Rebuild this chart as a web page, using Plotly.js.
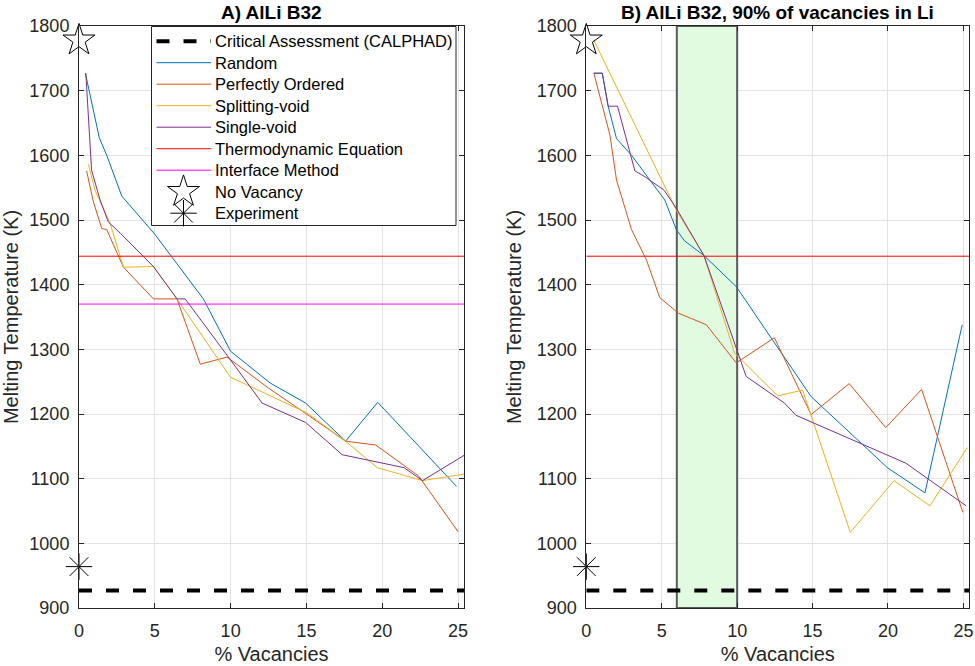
<!DOCTYPE html>
<html>
<head>
<meta charset="utf-8">
<script src="https://cdn.plot.ly/plotly-3.0.1.min.js"></script>
<style>
  html, body { margin: 0; padding: 0; background: #ffffff; }
  #chart { width: 975px; height: 666px; }
</style>
</head>
<body>
<div id="chart"></div>
<script>
// ---- Panel A: AlLi B32 ----
const aRandomX = [0.42, 1.34, 1.83, 2.82, 5.0, 8.2, 10.0, 12.6, 14.94, 17.58, 19.7, 24.9];
const aRandomY = [1727, 1627, 1600, 1537, 1478, 1378, 1297, 1248, 1217, 1158, 1218, 1088];

const aOrderedX = [0.5, 0.95, 1.5, 1.83, 2.93, 4.91, 6.46, 8.0, 9.76, 12.5, 15.0, 17.58, 19.57, 22.4, 25.0];
const aOrderedY = [1576, 1528, 1487, 1485, 1427, 1378, 1378, 1277, 1288, 1240, 1200, 1158, 1152, 1104, 1018];

const aSplitX = [0.62, 1.06, 2.05, 2.93, 4.91, 6.46, 9.98, 12.5, 15.0, 17.58, 19.67, 22.65, 25.39];
const aSplitY = [1586, 1546, 1495, 1427, 1428, 1378, 1257, 1230, 1202, 1158, 1117, 1097, 1107];

const aSingleX = [0.45, 0.83, 1.39, 1.93, 2.75, 4.91, 6.46, 7.0, 9.98, 12.07, 14.94, 17.36, 21.44, 22.65, 25.39];
const aSingleY = [1727, 1577, 1531, 1497, 1479, 1428, 1378, 1378, 1284, 1217, 1187, 1137, 1117, 1097, 1136];

// ---- Panel B: AlLi B32, 90% of vacancies in Li ----
const bRandomX = [0.5, 1.06, 1.45, 2.0, 3.0, 5.2, 5.97, 6.5, 7.8, 9.94, 14.9, 19.96, 22.45, 24.92];
const bRandomY = [1727, 1727, 1676, 1626, 1600, 1531, 1485, 1468, 1445, 1397, 1227, 1117, 1078, 1338];

const bOrderedX = [0.5, 1.57, 2.0, 3.0, 3.99, 4.87, 6.1, 7.96, 9.94, 12.47, 14.9, 17.43, 19.85, 22.23, 24.96];
const bOrderedY = [1727, 1631, 1562, 1485, 1438, 1380, 1356, 1338, 1279, 1318, 1199, 1247, 1179, 1238, 1048];

const bSplitX = [0.5, 5.97, 7.8, 9.83, 12.69, 14.34, 17.5, 20.4, 22.78, 25.25];
const bSplitY = [1778, 1515, 1445, 1294, 1228, 1237, 1017, 1097, 1058, 1148];

const bSingleX = [0.5, 1.06, 1.45, 2.07, 3.22, 3.88, 5.16, 5.97, 7.8, 9.91, 10.6, 13.13, 13.9, 21.18, 25.18];
const bSingleY = [1727, 1727, 1676, 1676, 1576, 1567, 1546, 1518, 1445, 1305, 1258, 1217, 1198, 1124, 1058];

// Reference levels (K)
const calphadTm = 927;        // Critical Assessment (CALPHAD)
const thermoTm = 1444;        // Thermodynamic Equation
const interfaceTm = 1370;     // Interface Method
const noVacancyTm = 1778;     // No Vacancy
const experimentTm = 964;     // Experiment
const refX = 0;

// Highlighted vacancy window in panel B (% vacancies)
const liWindow = [6, 10];

const xSpan = [0, 25.39];
const ySpan = [900, 1800];

const seriesNames = ['Random', 'Perfectly Ordered', 'Splitting-void', 'Single-void'];
const seriesColors = ['#0072BD', '#D95319', '#EDB120', '#7E2F8E'];

const FONT = 'Liberation Sans, Arial, Helvetica, sans-serif';
const INK = '#262626';
const CALPHAD_DASH = '13px,14px';

function dataTrace(x, y, i, xa, ya) {
  return {
    x: x, y: y, type: 'scatter', mode: 'lines',
    name: seriesNames[i], xaxis: xa, yaxis: ya,
    line: { color: seriesColors[i], width: 1 },
    showlegend: false, hoverinfo: 'skip'
  };
}
function hLine(yv, name, color, xa, ya, dash, width) {
  return {
    x: xSpan, y: [yv, yv], type: 'scatter', mode: 'lines',
    name: name, xaxis: xa, yaxis: ya,
    line: { color: color, width: width || 1, dash: dash || 'solid' },
    showlegend: false, hoverinfo: 'skip'
  };
}
function refMarker(yv, name, symbol, size, xa, ya) {
  return {
    x: [refX], y: [yv], type: 'scatter', mode: 'markers',
    name: name, xaxis: xa, yaxis: ya, cliponaxis: false,
    marker: { symbol: symbol, size: size, color: '#000000',
              line: { color: '#000000', width: 1 } },
    showlegend: false, hoverinfo: 'skip'
  };
}

const traces = [
  // Panel A
  hLine(calphadTm, 'Critical Assessment (CALPHAD)', '#000000', 'x', 'y', CALPHAD_DASH, 4),
  dataTrace(aRandomX, aRandomY, 0, 'x', 'y'),
  dataTrace(aOrderedX, aOrderedY, 1, 'x', 'y'),
  dataTrace(aSplitX, aSplitY, 2, 'x', 'y'),
  dataTrace(aSingleX, aSingleY, 3, 'x', 'y'),
  hLine(thermoTm, 'Thermodynamic Equation', '#FF0000', 'x', 'y'),
  hLine(interfaceTm, 'Interface Method', '#FF00FF', 'x', 'y'),
  refMarker(noVacancyTm, 'No Vacancy', 'star-open', 24, 'x', 'y'),
  refMarker(experimentTm, 'Experiment', 'asterisk-open', 22, 'x', 'y'),
  // Panel B
  hLine(calphadTm, 'Critical Assessment (CALPHAD)', '#000000', 'x2', 'y2', CALPHAD_DASH, 4),
  dataTrace(bRandomX, bRandomY, 0, 'x2', 'y2'),
  dataTrace(bOrderedX, bOrderedY, 1, 'x2', 'y2'),
  dataTrace(bSplitX, bSplitY, 2, 'x2', 'y2'),
  dataTrace(bSingleX, bSingleY, 3, 'x2', 'y2'),
  hLine(thermoTm, 'Thermodynamic Equation', '#FF0000', 'x2', 'y2'),
  refMarker(noVacancyTm, 'No Vacancy', 'star-open', 24, 'x2', 'y2'),
  refMarker(experimentTm, 'Experiment', 'asterisk-open', 22, 'x2', 'y2')
];

// ---- Legend box for panel A, laid out in page pixels on an overlay axis pair ----
const legendEntries = [
  { label: 'Critical Assessment (CALPHAD)', kind: 'line', color: '#000000', width: 4, dash: CALPHAD_DASH },
  { label: seriesNames[0], kind: 'line', color: seriesColors[0], width: 1 },
  { label: seriesNames[1], kind: 'line', color: seriesColors[1], width: 1 },
  { label: seriesNames[2], kind: 'line', color: seriesColors[2], width: 1 },
  { label: seriesNames[3], kind: 'line', color: seriesColors[3], width: 1 },
  { label: 'Thermodynamic Equation', kind: 'line', color: '#FF0000', width: 1 },
  { label: 'Interface Method', kind: 'line', color: '#FF00FF', width: 1 },
  { label: 'No Vacancy', kind: 'marker', symbol: 'star-open', size: 24 },
  { label: 'Experiment', kind: 'marker', symbol: 'asterisk-open', size: 22 }
];
const LG = { left: 151.5, right: 456, top: 26.5, bottom: 225.5,
             firstRow: 41.2, rowStep: 21.5, sampleL: 156.5, sampleR: 211,
             symbolX: 183.5, textX: 214 };

traces.push({
  x: [LG.left, LG.right, LG.right, LG.left, LG.left],
  y: [LG.top, LG.top, LG.bottom, LG.bottom, LG.top],
  type: 'scatter', mode: 'lines', fill: 'toself', fillcolor: '#ffffff',
  line: { color: INK, width: 1 }, xaxis: 'x3', yaxis: 'y3',
  showlegend: false, hoverinfo: 'skip'
});
const legendAnnotations = [];
legendEntries.forEach((e, k) => {
  const ry = LG.firstRow + k * LG.rowStep;
  if (e.kind === 'line') {
    traces.push({
      x: [LG.sampleL, LG.sampleR], y: [ry, ry], type: 'scatter', mode: 'lines',
      line: { color: e.color, width: e.width, dash: e.dash || 'solid' },
      xaxis: 'x3', yaxis: 'y3', showlegend: false, hoverinfo: 'skip'
    });
  } else {
    traces.push({
      x: [LG.symbolX], y: [ry], type: 'scatter', mode: 'markers', cliponaxis: false,
      marker: { symbol: e.symbol, size: e.size, color: '#000000', line: { color: '#000000', width: 1 } },
      xaxis: 'x3', yaxis: 'y3', showlegend: false, hoverinfo: 'skip'
    });
  }
  legendAnnotations.push({
    text: e.label, xref: 'x3', yref: 'y3', x: LG.textX, y: ry,
    xanchor: 'left', yanchor: 'middle', showarrow: false, borderpad: 0,
    font: { family: FONT, size: 16.5, color: '#000000' }
  });
});

const W = 975;
const xAxisBase = {
  range: xSpan, dtick: 5, tick0: 0,
  showline: true, mirror: 'ticks', linecolor: INK, linewidth: 1,
  ticks: 'inside', ticklen: 5, tickcolor: INK,
  showgrid: true, gridcolor: '#e3e3e3', zeroline: false,
  tickfont: { family: FONT, size: 18, color: INK },
  ticklabelstandoff: 6,
  title: { text: '% Vacancies', font: { family: FONT, size: 20, color: INK }, standoff: 7 }
};
const yAxisBase = {
  range: ySpan, dtick: 100, tick0: 900,
  showline: true, mirror: 'ticks', linecolor: INK, linewidth: 1,
  ticks: 'inside', ticklen: 5, tickcolor: INK,
  showgrid: true, gridcolor: '#e3e3e3', zeroline: false,
  tickfont: { family: FONT, size: 18, color: INK },
  ticklabelstandoff: 5,
  title: { text: 'Melting Temperature (K)', font: { family: FONT, size: 20, color: INK }, standoff: 9 }
};

const leftDom = [79 / W, 464 / W];
const rightDom = [586.3 / W, 969.3 / W];
const M = { l: 0, r: 0, t: 26, b: 58 };
const plotBottomPx = 666 - M.b;

const layout = {
  width: 975, height: 666,
  margin: M,
  paper_bgcolor: '#ffffff', plot_bgcolor: 'rgba(0,0,0,0)',
  font: { family: FONT, color: INK },
  xaxis: Object.assign({}, xAxisBase, { domain: leftDom, anchor: 'y' }),
  yaxis: Object.assign({}, yAxisBase, { anchor: 'x' }),
  xaxis2: Object.assign({}, xAxisBase, { domain: rightDom, anchor: 'y2' }),
  yaxis2: Object.assign({}, yAxisBase, { anchor: 'x2' }),
  // overlay in page-pixel units used for the legend box
  xaxis3: { domain: [0, 1], range: [0, W], visible: false, anchor: 'y3', fixedrange: true },
  yaxis3: { domain: [0, 1], range: [plotBottomPx, M.t], visible: false, anchor: 'x3', fixedrange: true },
  shapes: [{
    type: 'rect', xref: 'x2', yref: 'y2',
    x0: liWindow[0], x1: liWindow[1], y0: ySpan[0], y1: ySpan[1],
    fillcolor: '#e1fbe1', line: { color: '#5a5a5a', width: 2 },
    layer: 'between'
  }],
  annotations: [
    { text: '<b>A) AlLi B32</b>', xref: 'paper', yref: 'paper',
      x: (leftDom[0] + leftDom[1]) / 2, y: 1, xanchor: 'center', yanchor: 'bottom',
      yshift: 1, showarrow: false, font: { family: FONT, size: 19, color: '#000000' } },
    { text: '<b>B) AlLi B32, 90% of vacancies in Li</b>', xref: 'paper', yref: 'paper',
      x: (rightDom[0] + rightDom[1]) / 2, y: 1, xanchor: 'center', yanchor: 'bottom',
      yshift: 1, showarrow: false, font: { family: FONT, size: 19, color: '#000000' } }
  ].concat(legendAnnotations),
  showlegend: false
};

Plotly.newPlot('chart', traces, layout, { displayModeBar: false, staticPlot: true });
</script>
</body>
</html>
